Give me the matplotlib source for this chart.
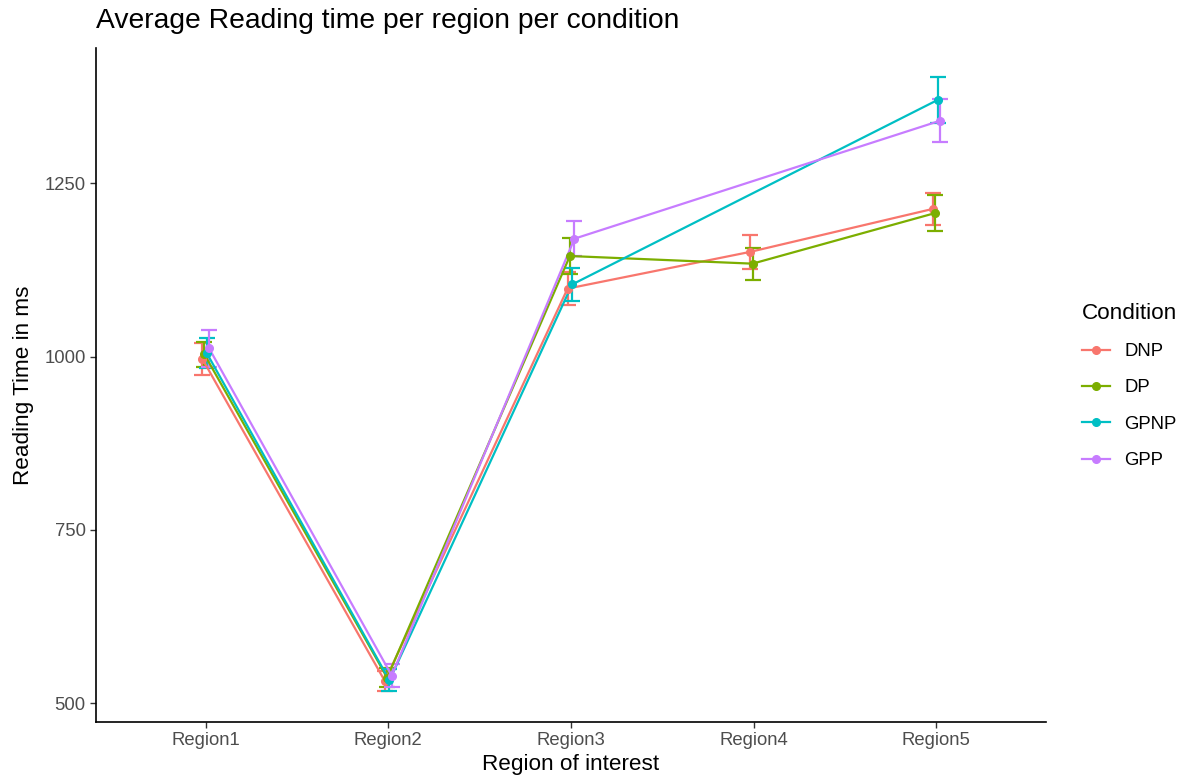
import numpy as np
import matplotlib
matplotlib.use("Agg")
import matplotlib.pyplot as plt
from matplotlib.lines import Line2D

plt.rcParams['font.family'] = ['Liberation Sans', 'DejaVu Sans']

regions = ["Region1", "Region2", "Region3", "Region4", "Region5"]
conditions = ["DNP", "DP", "GPNP", "GPP"]
colors = ["#F8766D", "#7CAE00", "#00BFC4", "#C77CFF"]

dnp_mean = [997, 532, 1098, 1151, 1213]
dnp_se = [23, 14, 24, 24, 23]
dp_mean = [1003, 537, 1145, 1134, 1207]
dp_se = [18, 14, 26, 23, 26]
gpnp_mean = [1005, 533, 1104, np.nan, 1370]
gpnp_se = [22, 16, 24, np.nan, 33]
gpp_mean = [1012, 540, 1170, np.nan, 1340]
gpp_se = [27, 16, 25, np.nan, 31]

means = [dnp_mean, dp_mean, gpnp_mean, gpp_mean]
ses = [dnp_se, dp_se, gpnp_se, gpp_se]

W, H = 1187, 782
fig = plt.figure(figsize=(W / 100, H / 100), dpi=100)
ax = fig.add_axes([96 / W, 1 - 722 / H, (1046 - 96) / W, (722 - 48) / H])

x = np.arange(1, len(regions) + 1)
d = 0.0125
for i, (m, s, c) in enumerate(zip(means, ses, colors)):
    m = np.array(m, dtype=float)
    s = np.array(s, dtype=float)
    ok = ~np.isnan(m)
    xi = x + (i - 1.5) * d
    ax.errorbar(xi[ok], m[ok], yerr=s[ok], fmt='none', ecolor=c, elinewidth=1.6,
                capsize=6, capthick=1.6, zorder=2)
    ax.plot(xi[ok], m[ok], color=c, lw=1.6, zorder=3)
    ax.plot(xi[ok], m[ok], 'o', color=c, ms=5.5, zorder=4)

ax.set_xlim(0.4, 5.6)
ax.set_ylim(473, 1445)
ax.set_xticks(x)
ax.set_xticklabels(regions)
ax.set_yticks([500, 750, 1000, 1250])

for sp in ['top', 'right']:
    ax.spines[sp].set_visible(False)
for sp in ['left', 'bottom']:
    ax.spines[sp].set_linewidth(1.2)
    ax.spines[sp].set_color('black')
ax.tick_params(axis='both', colors='#333333', labelcolor='#4D4D4D', labelsize=13.3,
               length=4, width=1.0)

ax.set_xlabel("Region of interest", fontsize=16.2, color='black', labelpad=3)
ax.set_ylabel("Reading Time in ms", fontsize=16.2, color='black', labelpad=7)
fig.text(96 / W, 1 - 21 / H, "Average Reading time per region per condition",
         fontsize=20.3, ha='left', va='center', color='black')

handles = [Line2D([0], [0], color=c, lw=1.6, marker='o', ms=5.5) for c in colors]
leg = fig.legend(handles, conditions, title="Condition", loc='upper left',
                 bbox_to_anchor=(1065 / W, 1 - 286 / H), frameon=False,
                 fontsize=13.3, title_fontsize=16.2, handlelength=1.55,
                 labelspacing=1.05, handletextpad=0.75, borderpad=0.4)
leg._legend_box.align = "left"

fig.savefig("out.png", dpi=100)
